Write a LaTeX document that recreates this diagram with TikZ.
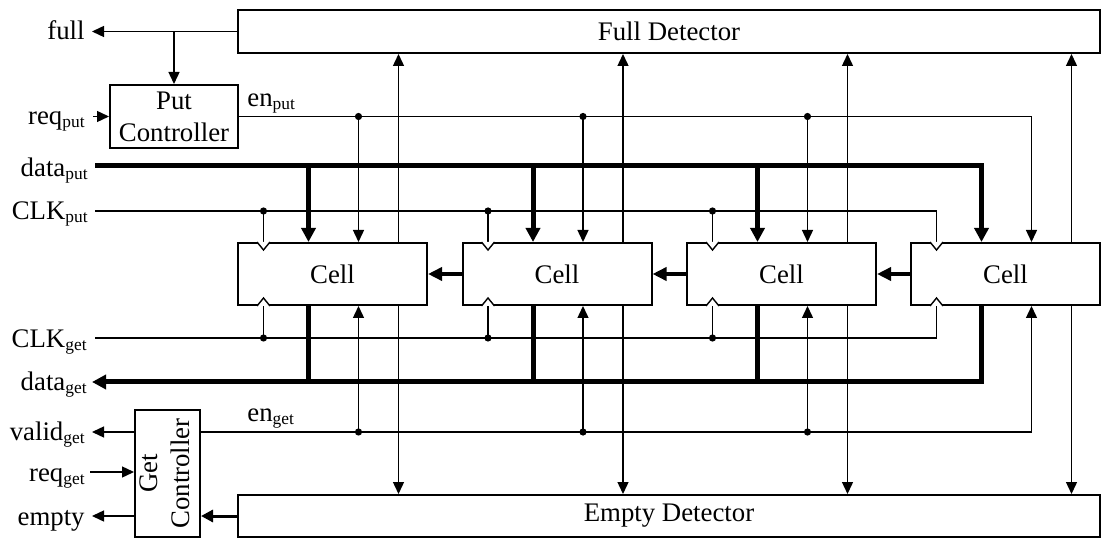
\documentclass[tikz,border=0pt]{standalone}
\usepackage{fontspec}
\setmainfont{Liberation Serif}
\usepackage{graphicx}
\usetikzlibrary{arrows.meta,calc}
\newcommand\mysub[1]{\raisebox{-1.5pt}{\fontsize{8.7}{9}\selectfont #1}}
\begin{document}
\begin{tikzpicture}[x=0.5pt,y=-0.5pt,
  font=\fontsize{13.4}{16}\selectfont,
  box/.style={draw,line width=1pt,fill=white,inner sep=0pt,align=center},
  wire/.style={line width=0.7pt},
  arr/.style={wire,-{Triangle[width=5.5pt,length=6pt]}},
  bus/.style={line width=2.5pt},
  busarr/.style={bus,-{Triangle[width=7pt,length=7pt]}},
  cellarr/.style={line width=2pt,-{Triangle[width=6.5pt,length=7pt]}},
  medarr/.style={line width=1.5pt,-{Triangle[width=6pt,length=6pt]}},
  dot/.style={circle,fill,inner sep=0pt,minimum size=3.6pt},
  lbl/.style={anchor=base east,inner sep=0pt},
  lblw/.style={anchor=base west,inner sep=0pt},
  clk/.style={draw,line width=0.7pt,fill=white,line join=miter}]
\useasboundingbox (0,0) rectangle (1102,539);

% main blocks
\node[box,minimum width=431pt,minimum height=21.5pt] (fd) at (669,31.5) {Full Detector};
\node[box,minimum width=431pt,minimum height=21pt] (ed) at (669,516) {Empty Detector};
\node[box,minimum width=64pt,minimum height=31.5pt] (pc) at (174,116.5) {Put\\Controller};
\node[box,minimum width=32.5pt,minimum height=63.5pt] (gc) at (167.5,473.5)
  {\rotatebox{90}{\begin{tabular}{@{}c@{}}Get\\Controller\end{tabular}}};
\foreach \i/\cx in {1/332.5,2/557,3/781.5,4/1005.5}
  \node[box,minimum width=94.5pt,minimum height=31pt] (c\i) at (\cx,274) {Cell};

% labels
\node[lbl] (lfull) at (85,39.5) {full};
\node[lbl] (lreqp) at (85,125) {req\mysub{put}};
\node[lbl] (ldatap) at (88,176.5) {data\mysub{put}};
\node[lbl] (lclkp) at (88,220) {CLK\mysub{put}};
\node[lbl] (lclkg) at (87,348) {CLK\mysub{get}};
\node[lbl] (ldatag) at (87,390.5) {data\mysub{get}};
\node[lbl] (lvalid) at (85,440.5) {valid\mysub{get}};
\node[lbl] (lreqg) at (85,481.5) {req\mysub{get}};
\node[lbl] (lempty) at (85,525) {empty};
\node[lblw] (lenp) at (247,107) {en\mysub{put}};
\node[lblw] (leng) at (247,422) {en\mysub{get}};

% free ends and per-cell columns
\coordinate (pfull) at (92,31.5);
\coordinate (preqp) at (93,116.5);
\coordinate (pdatap) at (95,166);
\coordinate (pclkp) at (95,211);
\coordinate (pclkg) at (95,338);
\coordinate (pdatag) at (92,382);
\coordinate (yeng) at (0,432);
\coordinate (pvalid) at (92,432);
\coordinate (preqg) at (90,472);
\coordinate (pempty) at (92,516);
\foreach \i/\L in {1/238,2/462.5,3/687,4/911}{
  \coordinate (xk\i) at (\L+25.5,0);
  \coordinate (xd\i) at (\L+70.5,0);
  \coordinate (xe\i) at (\L+120.5,0);
  \coordinate (xt\i) at (\L+160.5,0);
}

% full / put controller
\draw[arr] (fd.west) -- (pfull);
\draw[arr] (fd.west -| pc.north) -- (pc.north);
\draw[arr] (preqp) -- (pc.west);

% en_put
\draw[arr] (pc.east) -- (xe4 |- pc.east) -- (xe4 |- c4.north);
\foreach \i in {1,2,3}{
  \draw[arr] (xe\i |- pc.east) -- (xe\i |- c\i.north);
  \node[dot] (dep\i) at (xe\i |- pc.east) {};
}

% data_put
\draw[busarr] (pdatap) -- (xd4 |- pdatap) -- (xd4 |- c4.north);
\foreach \i in {1,2,3}
  \draw[busarr] (xd\i |- pdatap) -- (xd\i |- c\i.north);

% CLK_put
\draw[wire] (pclkp) -- (xk4 |- pclkp) -- (xk4 |- c4.north);
\foreach \i in {1,2,3}{
  \draw[wire] (xk\i |- pclkp) -- (xk\i |- c\i.north);
  \node[dot] (dkp\i) at (xk\i |- pclkp) {};
}

% CLK_get
\draw[wire] (pclkg) -- (xk4 |- pclkg) -- (xk4 |- c4.south);
\foreach \i in {1,2,3}{
  \draw[wire] (xk\i |- pclkg) -- (xk\i |- c\i.south);
  \node[dot] (dkg\i) at (xk\i |- pclkg) {};
}

% data_get
\draw[busarr] (xd4 |- c4.south) -- (xd4 |- pdatag) -- (pdatag);
\foreach \i in {1,2,3}
  \draw[bus] (xd\i |- c\i.south) -- (xd\i |- pdatag);

% en_get
\draw[arr] (gc.east |- yeng) -- (xe4 |- yeng) -- (xe4 |- c4.south);
\foreach \i in {1,2,3}{
  \draw[arr] (xe\i |- yeng) -- (xe\i |- c\i.south);
  \node[dot] (deg\i) at (xe\i |- yeng) {};
}

% get controller I/O
\draw[arr] (gc.west |- yeng) -- (pvalid);
\draw[arr] (preqg) -- (gc.west |- preqg);
\draw[arr] (gc.west |- ed.west) -- (pempty);
\draw[medarr] (ed.west) -- (gc.east |- ed.west);

% cell chain
\draw[cellarr] (c2.west) -- (c1.east);
\draw[cellarr] (c3.west) -- (c2.east);
\draw[cellarr] (c4.west) -- (c3.east);

% detector links
\foreach \i in {1,...,4}{
  \draw[arr] (xt\i |- c\i.north) -- (xt\i |- fd.south);
  \draw[arr] (xt\i |- c\i.south) -- (xt\i |- ed.north);
}

% clock markers
\foreach \i in {1,...,4}{
  \draw[clk] ($(xk\i |- c\i.north)+(-6.5,0)$) -- ++(6.5,8) -- ++(6.5,-8);
  \draw[clk] ($(xk\i |- c\i.south)+(-6.5,0)$) -- ++(6.5,-8) -- ++(6.5,8);
}
\end{tikzpicture}
\end{document}
